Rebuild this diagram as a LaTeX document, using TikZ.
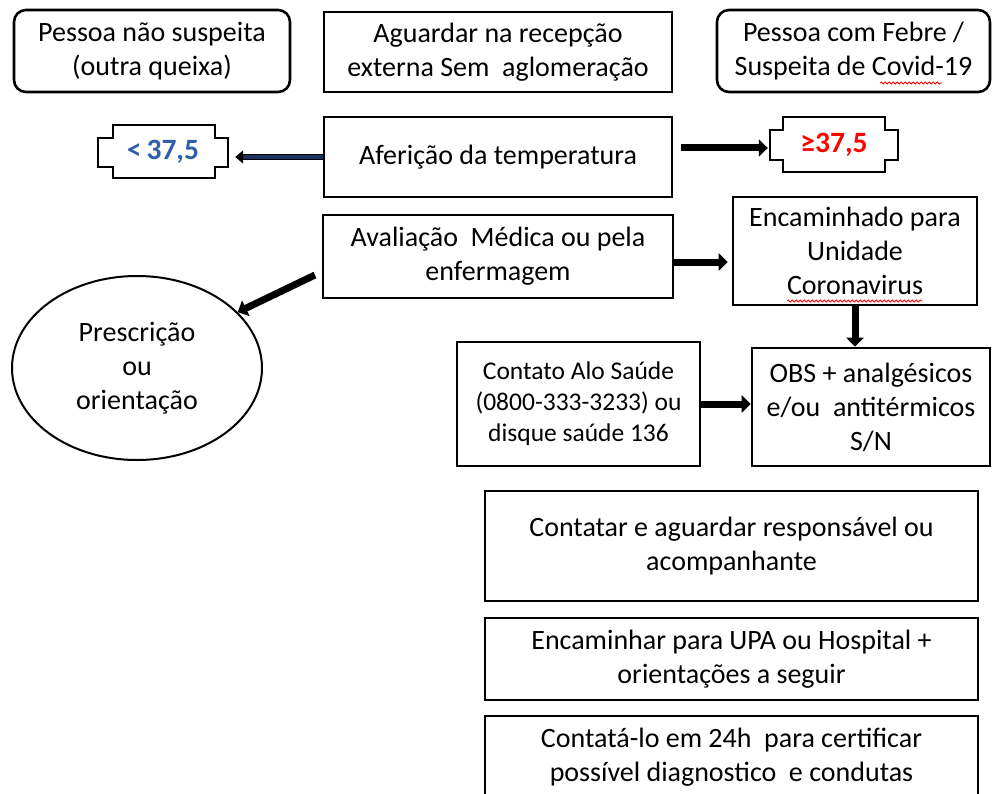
\documentclass[tikz,border=0pt]{standalone}
\usepackage{fontspec}
\setmainfont{Carlito}
\usetikzlibrary{arrows.meta,shapes.geometric,decorations.pathmorphing}
\definecolor{lowblue}{RGB}{46,95,168}
\definecolor{navyline}{RGB}{30,50,95}
\begin{document}
\begin{tikzpicture}[x=1pt,y=-1pt,
  txt/.style={font=\fontsize{28}{34}\selectfont},
  box/.style={draw,line width=2.6pt,align=center,inner sep=0pt,txt},
  rbox/.style={box,rounded corners=12pt},
  notchlbl/.style={inner sep=0pt,font=\fontsize{29.5}{34}\selectfont\bfseries},
  notchline/.style={draw,line width=2.6pt},
  bigarrow/.style={line width=7pt,-{Triangle[length=9pt,width=17pt]}},
  dblarrow/.style={draw=black,line width=1.6pt,double=navyline,double distance=3.6pt,-{Triangle[length=8pt,width=13pt]}},
  squiggle/.style={red,line width=0.8pt,decorate,decoration={snake,amplitude=1.1pt,segment length=4pt}}
]
\useasboundingbox (0,0) rectangle (992,794);
\clip (0,0) rectangle (992,794);

% top row
\node[rbox,minimum width=276pt,minimum height=82pt] (nsusp) at (152,51) {Pessoa não suspeita\\(outra queixa)};
\node[box,minimum width=348pt,minimum height=80pt] (recep) at (498,52) {Aguardar na recepção\\externa Sem\ \ aglomeração};
\node[rbox,minimum width=273pt,minimum height=82pt] (febre) at (853.5,51) {Pessoa com Febre /\\Suspeita de Covid-19};

% temperature
\node[box,minimum width=348pt,minimum height=80pt] (temp) at (498,157) {Aferição da temperatura};

\node[notchlbl,text=lowblue,minimum width=130pt,minimum height=53pt] (lo) at (163,151.5) {<\,37,5};
\draw[notchline] (113,125) -- (215,125) -- (215,138) -- (228,138) -- (228,167) -- (215,167) -- (215,178) -- (113,178) -- (113,167) -- (98,167) -- (98,138) -- (113,138) -- cycle;

\node[notchlbl,text=red,minimum width=128pt,minimum height=55pt] (hi) at (834,144.5) {≥37,5};
\draw[notchline] (783,117) -- (885,117) -- (885,130) -- (898,130) -- (898,160) -- (885,160) -- (885,172) -- (783,172) -- (783,160) -- (770,160) -- (770,130) -- (783,130) -- cycle;

\draw[dblarrow] (temp.west) -- ([xshift=7pt]lo.east |- temp.west);
\coordinate (ta) at ([shift={(8pt,9pt)}]temp.east);
\draw[bigarrow] (ta) -- ([xshift=-2pt]ta -| hi.west);

% evaluation
\node[box,minimum width=350pt,minimum height=83pt] (aval) at (498,256.5) {Avaliação\ \ Médica ou pela\\enfermagem};
\node[box,minimum width=244pt,minimum height=108pt] (enc) at (855,251) {Encaminhado para\\Unidade\\Coronavirus};
\draw[bigarrow] (aval.east |- 0,262) -- ([xshift=-4pt]enc.west |- 0,262);

\node[ellipse,draw,line width=2pt,minimum width=250pt,minimum height=184pt,inner sep=0pt,align=center,txt] (ell) at (137,368) {Prescrição\\ou\\orientação};
\coordinate (evalout) at (315,275);
\draw[bigarrow] (evalout) -- (ell.29);

% contact / OBS
\node[box,minimum width=243pt,minimum height=124pt,font=\fontsize{25.5}{31}\selectfont] (alo) at (578.5,404) {Contato Alo Saúde\\(0800-333-3233) ou\\disque saúde 136};
\node[box,minimum width=238pt,minimum height=118pt] (obs) at (871,407) {OBS + analgésicos\\e/ou\ \ antitérmicos\\S/N};
\draw[bigarrow] (enc.south) -- (enc.south |- obs.north);
\draw[bigarrow] (alo.east) -- (alo.east -| obs.west);

% bottom boxes
\node[box,minimum width=493pt,minimum height=110pt] (resp) at (731.5,546) {Contatar e aguardar responsável ou\\acompanhante};
\node[box,minimum width=493pt,minimum height=82pt] (upa) at (731.5,659) {Encaminhar para UPA ou Hospital +\\orientações a seguir};
\node[box,minimum width=493pt,minimum height=82pt] (cert) at (731.5,757) {Contatá-lo em 24h\ \ para certificar\\possível diagnostico\ \ e condutas};

% spell-check marks
\draw[squiggle] (880,83) -- (942,83);
\draw[squiggle] (787,301) -- (922,301);
\end{tikzpicture}
\end{document}
